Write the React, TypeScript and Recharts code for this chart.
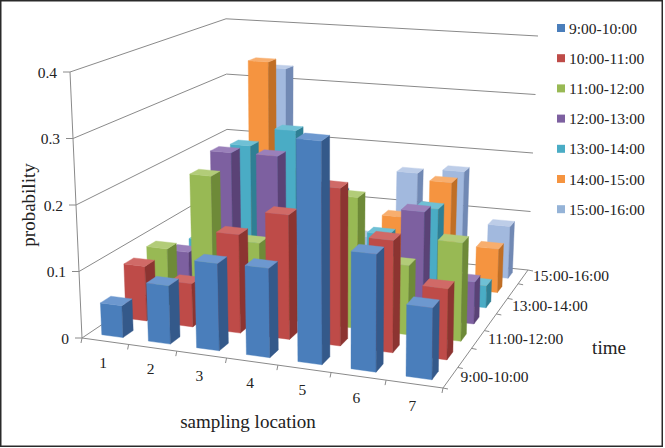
import React from "react";
import { BarChart, Bar, XAxis, YAxis } from "recharts";

const W = 665;
const H = 448;
const Y_MAX = 0.4;

const locations = ["1", "2", "3", "4", "5", "6", "7"];
const timeSlots = [
  "9:00-10:00",
  "10:00-11:00",
  "11:00-12:00",
  "12:00-13:00",
  "13:00-14:00",
  "14:00-15:00",
  "15:00-16:00",
];
const yTicks = [0, 0.1, 0.2, 0.3, 0.4];

// probability per sampling location, one array per time slot
const p0900 = [0.048, 0.087, 0.129, 0.131, 0.325, 0.17, 0.103];
const p1000 = [0.084, 0.066, 0.149, 0.187, 0.235, 0.166, 0.104];
const p1100 = [0.089, 0.211, 0.114, 0.107, 0.2, 0.105, 0.148];
const p1200 = [0.062, 0.23, 0.231, 0.16, 0.085, 0.165, 0.065];
const p1300 = [0.06, 0.224, 0.255, 0.16, 0.1, 0.149, 0.035];
const p1400 = [0.07, 0.35, 0.17, 0.06, 0.108, 0.172, 0.071];
const p1500 = [0.09, 0.326, 0.115, 0.047, 0.163, 0.172, 0.087];
const series = [p0900, p1000, p1100, p1200, p1300, p1400, p1500];

const colors = [
  { front: "#4A7EBB", side: "#34598A", top: "#6D98CF" },
  { front: "#BE4B48", side: "#8C3431", top: "#D06A67" },
  { front: "#98B954", side: "#6E8A38", top: "#B2CC78" },
  { front: "#7D60A0", side: "#5A4276", top: "#9A80BA" },
  { front: "#4AACC5", side: "#2F7F94", top: "#6FC0D5" },
  { front: "#F59440", side: "#C06F26", top: "#F8AE6E" },
  { front: "#A2B9DE", side: "#7189B4", top: "#BDCDE8" },
];

const rows = locations.map((loc, i) => {
  const r: any = { loc };
  series.forEach((s, j) => (r["s" + j] = s[i]));
  return r;
});

// 3d view: floor quad (front-left, front-right, back-right, back-left)
const FL = [82, 338];
const FR = [443, 388];
const BR = [528, 270];
const BL = [228, 240];
const BAR_W = 0.46;
const BAR_D = 0.42;
const FONT = "'Liberation Serif', 'DejaVu Serif', serif";

function squareToQuad(p0: number[], p1: number[], p2: number[], p3: number[]) {
  const [x0, y0] = p0, [x1, y1] = p1, [x2, y2] = p2, [x3, y3] = p3;
  const dx1 = x1 - x2, dx2 = x3 - x2, dx3 = x0 - x1 + x2 - x3;
  const dy1 = y1 - y2, dy2 = y3 - y2, dy3 = y0 - y1 + y2 - y3;
  const den = dx1 * dy2 - dx2 * dy1;
  const g = (dx3 * dy2 - dx2 * dy3) / den;
  const h = (dx1 * dy3 - dx3 * dy1) / den;
  const a = x1 - x0 + g * x1, b = x3 - x0 + h * x3;
  const d = y1 - y0 + g * y1, e = y3 - y0 + h * y3;
  return (u: number, w: number) => {
    const q = g * u + h * w + 1;
    return [(a * u + b * w + x0) / q, (d * u + e * w + y0) / q];
  };
}
const floorAt = squareToQuad(FL, FR, BR, BL);

function bilin(fl: number, fr: number, bl: number, br: number, u: number, w: number) {
  return fl * (1 - u) * (1 - w) + fr * u * (1 - w) + bl * (1 - u) * w + br * u * w;
}

// px per 0.1 of probability, and the sideways lean of verticals
function proj(u: number, w: number, v: number) {
  const [fx, fy] = floorAt(u, w);
  const s = bilin(66.5, 70.7, 55.3, 58.5, u, w) * 10;
  const lean = bilin(-3, 1, -0.5, 2.5, u, w) * 10;
  return [fx + v * lean, fy - v * s];
}

const pts = (...p: number[][]) => p.map((q) => q[0].toFixed(1) + "," + q[1].toFixed(1)).join(" ");

function Box3D(props: any) {
  const { x, width, height, background, depth } = props;
  if (!height || height <= 0) return null;
  const ph = background && background.height ? background.height : H;
  const v = (height / ph) * Y_MAX;
  const uc = (x + width / 2) / W;
  const u0 = uc - BAR_W / 14;
  const u1 = uc + BAR_W / 14;
  const w0 = (depth + (1 - BAR_D) / 2) / 7;
  const w1 = (depth + (1 + BAR_D) / 2) / 7;
  const c = colors[depth];
  const fbl = proj(u0, w0, 0), fbr = proj(u1, w0, 0);
  const ftl = proj(u0, w0, v), ftr = proj(u1, w0, v);
  const bbr = proj(u1, w1, 0), btr = proj(u1, w1, v), btl = proj(u0, w1, v);
  return (
    <g>
      <polygon points={pts(fbl, fbr, ftr, ftl)} fill={c.front} stroke={c.front} strokeWidth={0.4} />
      <polygon points={pts(fbr, bbr, btr, ftr)} fill={c.side} stroke={c.side} strokeWidth={0.4} />
      <polygon points={pts(ftl, ftr, btr, btl)} fill={c.top} stroke={c.top} strokeWidth={0.4} />
    </g>
  );
}

function Walls() {
  const grid = "#8a8a8a";
  const line = (a: number[], b: number[], k: string, col = grid) => (
    <line key={k} x1={a[0]} y1={a[1]} x2={b[0]} y2={b[1]} stroke={col} strokeWidth={1} />
  );
  const els: any[] = [];
  yTicks.forEach((t) => {
    els.push(line(proj(0, 0, t), proj(0, 1, t), "lw" + t));
    els.push(line(proj(0, 1, t), proj(1, 1, t), "bw" + t));
    const p = proj(0, 0, t);
    els.push(line([p[0] - 7, p[1]], p, "yt" + t));
    els.push(
      <text key={"yl" + t} x={p[0] - 13} y={p[1]} textAnchor="end" dominantBaseline="central" fontSize={15.5} fill="#222" fontFamily={FONT}>
        {t === 0 ? "0" : t.toFixed(1)}
      </text>
    );
  });
  els.push(line(proj(0, 0, 0), proj(0, 0, Y_MAX), "yaxis"));
  els.push(line(proj(0, 0, 0), proj(1, 0, 0), "xaxis"));
  els.push(line(proj(1, 0, 0), proj(1, 1, 0), "zaxis"));
  for (let k = 0; k <= 7; k++) {
    const p = proj(k / 7, 0, 0);
    els.push(line(p, [p[0] - 1, p[1] + 5], "xt" + k));
  }
  for (let j = 0; j <= 7; j++) {
    const p = proj(1, j / 7, 0);
    els.push(line(p, [p[0] + 5, p[1] + 1], "zt" + j));
  }
  locations.forEach((l, k) => {
    const p = proj((k + 0.5) / 7, 0, 0);
    els.push(
      <text key={"xl" + k} x={p[0] - 2} y={p[1] + 21} textAnchor="middle" dominantBaseline="central" fontSize={15.5} fill="#222" fontFamily={FONT}>
        {l}
      </text>
    );
  });
  timeSlots.forEach((t, j) => {
    if (j % 2) return;
    const p = proj(1, (j + 0.5) / 7, 0);
    els.push(
      <text key={"zl" + j} x={p[0] + 10} y={p[1] - 1} textAnchor="start" dominantBaseline="central" fontSize={15.5} fill="#222" fontFamily={FONT}>
        {t}
      </text>
    );
  });
  return (
    <svg width={W} height={H} style={{ position: "absolute", left: 0, top: 0 }}>
      <rect x={0.75} y={0.75} width={661.5} height={445.5} fill="#fff" stroke="#2a2a2a" strokeWidth={1.5} />
      {els}
      <text x={28} y={205} transform="rotate(-90 28 205)" textAnchor="middle" dominantBaseline="central" fontSize={19} fill="#222" fontFamily={FONT}>
        probability
      </text>
      <text x={248} y={421} textAnchor="middle" dominantBaseline="central" fontSize={19} fill="#222" fontFamily={FONT}>
        sampling location
      </text>
      <text x={609} y={347} textAnchor="middle" dominantBaseline="central" fontSize={19} fill="#222" fontFamily={FONT}>
        time
      </text>
      {timeSlots.map((t, j) => (
        <g key={"lg" + j}>
          <rect x={557} y={28 + j * 30.2 - 4} width={8} height={8} fill={j === 6 ? "#95B3D7" : colors[j].front} />
          <text x={569} y={28 + j * 30.2} dominantBaseline="central" fontSize={15.5} fill="#222" fontFamily={FONT}>
            {t}
          </text>
        </g>
      ))}
    </svg>
  );
}

export default function App() {
  // back rows first so the front rows are painted over them
  const order = [6, 5, 4, 3, 2, 1, 0];
  return (
    <div style={{ position: "absolute", left: 0, top: 0, width: W, height: H }}>
      <Walls />
      <div style={{ position: "absolute", left: 0, top: 0 }}>
        <BarChart width={W} height={H} data={rows} margin={{ top: 0, right: 0, bottom: 0, left: 0 }}>
          {order.map((j) => (
            <XAxis key={"x" + j} xAxisId={j} dataKey="loc" hide />
          ))}
          <YAxis domain={[0, Y_MAX]} allowDataOverflow hide />
          {order.map((j) => (
            <Bar
              key={"b" + j}
              xAxisId={j}
              dataKey={"s" + j}
              name={timeSlots[j]}
              isAnimationActive={false}
              shape={(p: any) => <Box3D {...p} depth={j} />}
            />
          ))}
        </BarChart>
      </div>
    </div>
  );
}
